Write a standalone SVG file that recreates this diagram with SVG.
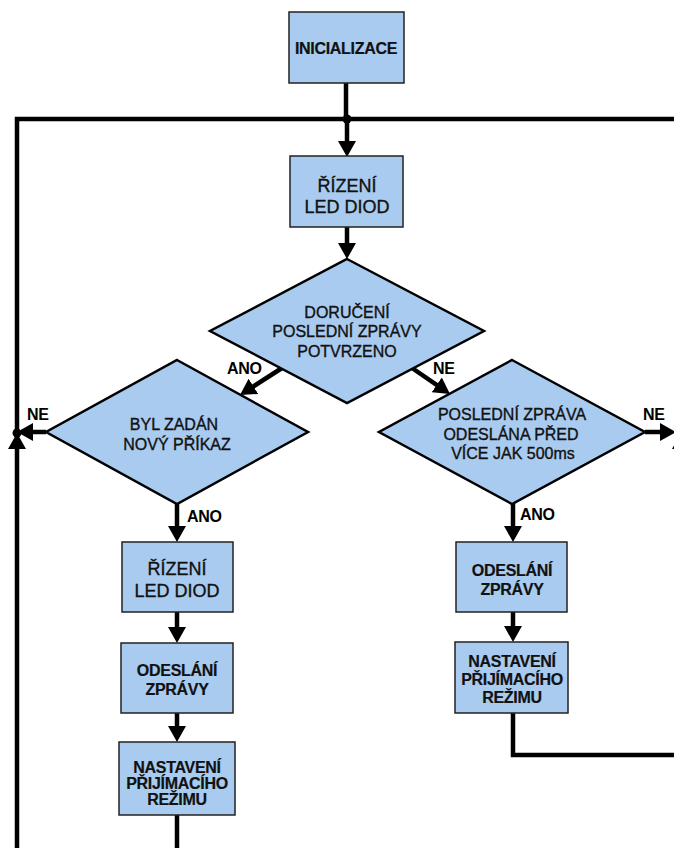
<svg xmlns="http://www.w3.org/2000/svg" width="674" height="848" viewBox="0 0 674 848">
<defs>
<marker id="ah" viewBox="0 0 16 18" refX="6" refY="9" markerWidth="16" markerHeight="18" markerUnits="userSpaceOnUse" orient="auto"><path d="M0,0 L16,9 L0,18 Z" fill="#000"/></marker>
</defs>
<style>
.box{fill:#a9cbef;stroke:#222;stroke-width:1.5}
.dia{fill:#a9cbef;stroke:#000;stroke-width:2.5;stroke-linejoin:miter}
.t{font-family:"Liberation Sans",Arial,sans-serif;font-size:16px;fill:#111;text-anchor:middle;stroke:#111;stroke-width:0.35px}
.b{font-weight:bold;letter-spacing:-0.3px;stroke-width:0.2px}
.big{font-size:18px}
.lbl{font-family:"Liberation Sans",Arial,sans-serif;font-size:16px;font-weight:bold;fill:#000;letter-spacing:-0.3px}
.c{fill:none;stroke:#000;stroke-width:4.5;stroke-linejoin:miter}
.a{marker-end:url(#ah)}
.dot{fill:#000}
</style>
<rect width="674" height="848" fill="#fff"/>
<g id="connectors">
<path class="c" d="M346,83 V119"/>
<path class="c" d="M17,433 V119 H681 V433"/>
<path class="c a" d="M17,848 V443"/>
<path class="c a" d="M347,119 V147"/>
<path class="c a" d="M347,227 V249"/>
<path class="c a" d="M282,368 L248.4,389.6"/>
<path class="c a" d="M412,368 L441.7,388.3"/>
<path class="c a" d="M46,432 H27"/>
<path class="c a" d="M177,503 V532"/>
<path class="c a" d="M177,612 V633"/>
<path class="c a" d="M177,713 V732"/>
<path class="c" d="M177,815 V848"/>
<path class="c a" d="M513,503 V532"/>
<path class="c a" d="M513,612 V632"/>
<path class="c a" d="M513,713 V755 H681 V443"/>
<path class="c a" d="M645,432 H666"/>
<circle class="dot" cx="347" cy="119" r="4.5"/>
<circle class="dot" cx="17" cy="433" r="4.5"/>
<circle class="dot" cx="681" cy="433" r="4.5"/>
<text class="lbl" x="227" y="374">ANO</text>
<text class="lbl" x="433" y="374">NE</text>
<text class="lbl" x="27" y="420">NE</text>
<text class="lbl" x="643" y="420">NE</text>
<text class="lbl" x="187" y="522">ANO</text>
<text class="lbl" x="520" y="520">ANO</text>
</g>
<g id="init">
<rect class="box" x="289" y="12" width="115" height="71"/>
<text class="t b" x="346" y="54">INICIALIZACE</text>
</g>
<g id="rizeni1">
<rect class="box" x="290" y="156" width="113" height="71"/>
<text class="t big" x="347" y="192">ŘÍZENÍ</text>
<text class="t big" x="347" y="213">LED DIOD</text>
</g>
<g id="doruceni">
<polygon class="dia" points="347,259 484,331 347,403 210,331"/>
<text class="t" x="347" y="318">DORUČENÍ</text>
<text class="t" x="347" y="337">POSLEDNÍ ZPRÁVY</text>
<text class="t" x="347" y="357">POTVRZENO</text>
</g>
<g id="prikaz">
<polygon class="dia" points="177,360 308,432 177,504 46,432"/>
<text class="t" x="174" y="430">BYL ZADÁN</text>
<text class="t" x="177" y="450">NOVÝ PŘÍKAZ</text>
</g>
<g id="posledni">
<polygon class="dia" points="512,360 645,432 512,504 379,432"/>
<text class="t" x="512" y="420">POSLEDNÍ ZPRÁVA</text>
<text class="t" x="511" y="440">ODESLÁNA PŘED</text>
<text class="t" x="513" y="459">VÍCE JAK 500ms</text>
</g>
<g id="rizeni2">
<rect class="box" x="122" y="542" width="111" height="70"/>
<text class="t big" x="177" y="575">ŘÍZENÍ</text>
<text class="t big" x="177" y="597">LED DIOD</text>
</g>
<g id="odeslani1">
<rect class="box" x="121" y="643" width="112" height="70"/>
<text class="t b" x="177" y="676">ODESLÁNÍ</text>
<text class="t b" x="177" y="695">ZPRÁVY</text>
</g>
<g id="nastaveni1">
<rect class="box" x="119" y="742" width="116" height="73"/>
<text class="t b" x="177" y="773">NASTAVENÍ</text>
<text class="t b" x="177" y="789">PŘIJÍMACÍHO</text>
<text class="t b" x="177" y="805">REŽIMU</text>
</g>
<g id="odeslani2">
<rect class="box" x="456" y="542" width="111" height="70"/>
<text class="t b" x="512" y="576">ODESLÁNÍ</text>
<text class="t b" x="512" y="595">ZPRÁVY</text>
</g>
<g id="nastaveni2">
<rect class="box" x="455" y="642" width="113" height="71"/>
<text class="t b" x="512" y="667">NASTAVENÍ</text>
<text class="t b" x="512" y="685">PŘIJÍMACÍHO</text>
<text class="t b" x="512" y="703">REŽIMU</text>
</g>
</svg>
